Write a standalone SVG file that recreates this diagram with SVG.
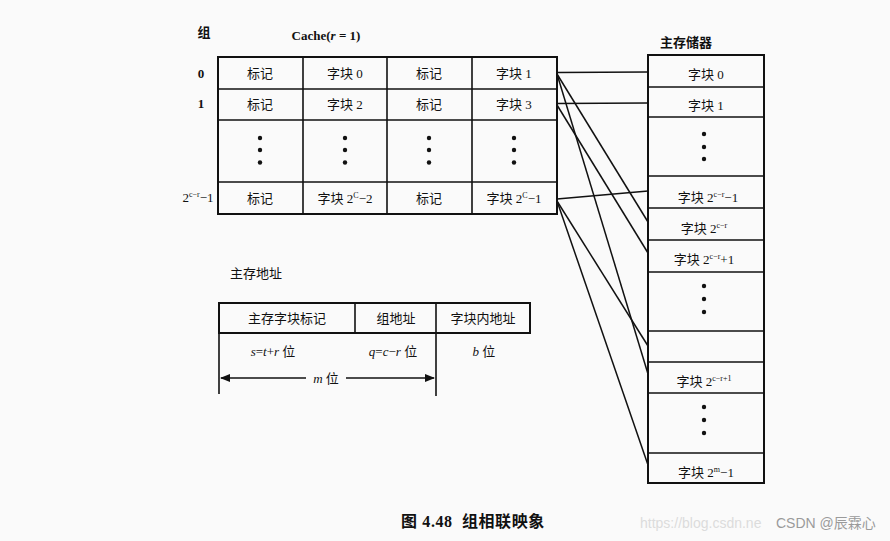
<svg xmlns="http://www.w3.org/2000/svg" width="890" height="541" viewBox="0 0 890 541">
<style>
.t{font-family:"Liberation Serif","Noto Sans CJK SC",serif;font-size:13px;fill:#111;text-anchor:middle}
.box{fill:none;stroke:#111;stroke-width:2}
.ln{stroke:#111;stroke-width:1.6;fill:none}
.cn{stroke:#111;stroke-width:1.5}
.dot{fill:#111}
.sup{font-size:8px}
</style>
<defs>
<marker id="ah" markerWidth="10" markerHeight="8" refX="9" refY="4" orient="auto" markerUnits="userSpaceOnUse">
<path d="M0,0 L10,4 L0,8 Z" fill="#111"/>
</marker>
</defs>
<rect width="890" height="541" fill="#fafafa"/>

<g id="cache-labels">
<text class="t" x="204" y="37" font-weight="bold">组</text>
<text class="t" x="326" y="40" font-weight="bold">Cache(<tspan font-style="italic">r</tspan> = 1)</text>
<text class="t" x="201" y="78" font-weight="bold">0</text>
<text class="t" x="201" y="108" font-weight="bold">1</text>
<text class="t" x="198" y="202">2<tspan class="sup" dy="-5">c−r</tspan><tspan dy="5">−1</tspan></text>
</g>

<g id="cache">
<rect class="box" x="218" y="57" width="339" height="157"/>
<line class="ln" x1="218" y1="89" x2="557" y2="89"/>
<line class="ln" x1="218" y1="120" x2="557" y2="120"/>
<line class="ln" x1="218" y1="182" x2="557" y2="182"/>
<line class="ln" x1="303" y1="57" x2="303" y2="214"/>
<line class="ln" x1="387" y1="57" x2="387" y2="214"/>
<line class="ln" x1="472" y1="57" x2="472" y2="214"/>
<text class="t" x="260" y="78">标记</text>
<text class="t" x="345" y="78">字块 0</text>
<text class="t" x="429" y="78">标记</text>
<text class="t" x="514" y="78">字块 1</text>
<text class="t" x="260" y="109">标记</text>
<text class="t" x="345" y="109">字块 2</text>
<text class="t" x="429" y="109">标记</text>
<text class="t" x="514" y="109">字块 3</text>
<g class="dot">
<circle cx="260" cy="138" r="2.2"/><circle cx="260" cy="150" r="2.2"/><circle cx="260" cy="162.5" r="2.2"/>
<circle cx="345" cy="138" r="2.2"/><circle cx="345" cy="150" r="2.2"/><circle cx="345" cy="162.5" r="2.2"/>
<circle cx="429" cy="138" r="2.2"/><circle cx="429" cy="150" r="2.2"/><circle cx="429" cy="162.5" r="2.2"/>
<circle cx="514" cy="138" r="2.2"/><circle cx="514" cy="150" r="2.2"/><circle cx="514" cy="162.5" r="2.2"/>
</g>
<text class="t" x="260" y="203">标记</text>
<text class="t" x="345" y="203">字块 2<tspan class="sup" dy="-5">C</tspan><tspan dy="5">−2</tspan></text>
<text class="t" x="429" y="203">标记</text>
<text class="t" x="514" y="203">字块 2<tspan class="sup" dy="-5">C</tspan><tspan dy="5">−1</tspan></text>
</g>

<g id="memory">
<text class="t" x="686" y="47" font-weight="bold">主存储器</text>
<rect class="box" x="648" y="55" width="116" height="428"/>
<line class="ln" x1="648" y1="87" x2="764" y2="87"/>
<line class="ln" x1="648" y1="117" x2="764" y2="117"/>
<line class="ln" x1="648" y1="176" x2="764" y2="176"/>
<line class="ln" x1="648" y1="208" x2="764" y2="208"/>
<line class="ln" x1="648" y1="240" x2="764" y2="240"/>
<line class="ln" x1="648" y1="272" x2="764" y2="272"/>
<line class="ln" x1="648" y1="331" x2="764" y2="331"/>
<line class="ln" x1="648" y1="362" x2="764" y2="362"/>
<line class="ln" x1="648" y1="393" x2="764" y2="393"/>
<line class="ln" x1="648" y1="453" x2="764" y2="453"/>
<text class="t" x="706" y="79">字块 0</text>
<text class="t" x="706" y="110">字块 1</text>
<g class="dot">
<circle cx="704" cy="134" r="2.2"/><circle cx="704" cy="147" r="2.2"/><circle cx="704" cy="159" r="2.2"/>
<circle cx="704" cy="286" r="2.2"/><circle cx="704" cy="299" r="2.2"/><circle cx="704" cy="312" r="2.2"/>
<circle cx="704" cy="407" r="2.2"/><circle cx="704" cy="420" r="2.2"/><circle cx="704" cy="433" r="2.2"/>
</g>
<text class="t" x="708" y="202">字块 2<tspan class="sup" dy="-5">c−r</tspan><tspan dy="5">−1</tspan></text>
<text class="t" x="704" y="233">字块 2<tspan class="sup" dy="-5">c−r</tspan></text>
<text class="t" x="704" y="264">字块 2<tspan class="sup" dy="-5">c−r</tspan><tspan dy="5">+1</tspan></text>
<text class="t" x="704" y="386">字块 2<tspan class="sup" dy="-5">c−r+1</tspan></text>
<text class="t" x="706" y="477">字块 2<tspan class="sup" dy="-5">m</tspan><tspan dy="5">−1</tspan></text>
</g>

<g id="connectors">
<line class="cn" x1="557" y1="72.5" x2="648" y2="72"/>
<line class="cn" x1="557" y1="74" x2="648" y2="222"/>
<line class="cn" x1="557" y1="74" x2="648" y2="374"/>
<line class="cn" x1="557" y1="103.5" x2="648" y2="103"/>
<line class="cn" x1="557" y1="105" x2="648" y2="253"/>
<line class="cn" x1="557" y1="199" x2="648" y2="191"/>
<line class="cn" x1="557" y1="201" x2="648" y2="346"/>
<line class="cn" x1="557" y1="201" x2="648" y2="465"/>
</g>

<g id="address">
<text class="t" x="256" y="278">主存地址</text>
<rect class="box" x="219" y="303" width="311" height="30"/>
<line class="ln" x1="355" y1="303" x2="355" y2="333"/>
<line class="ln" x1="436" y1="303" x2="436" y2="333"/>
<line class="ln" x1="219" y1="333" x2="219" y2="394"/>
<line class="ln" x1="436" y1="333" x2="436" y2="396"/>
<text class="t" x="287" y="323">主存字块标记</text>
<text class="t" x="396" y="323">组地址</text>
<text class="t" x="483" y="323">字块内地址</text>
<text class="t" x="273" y="356"><tspan font-style="italic">s</tspan>=<tspan font-style="italic">t</tspan>+<tspan font-style="italic">r</tspan> 位</text>
<text class="t" x="393" y="356"><tspan font-style="italic">q</tspan>=<tspan font-style="italic">c</tspan>−<tspan font-style="italic">r</tspan> 位</text>
<text class="t" x="484" y="356"><tspan font-style="italic">b</tspan> 位</text>
<line class="cn" x1="306" y1="378" x2="221" y2="378" marker-end="url(#ah)"/>
<line class="cn" x1="346" y1="378" x2="434" y2="378" marker-end="url(#ah)"/>
<text class="t" x="326" y="383"><tspan font-style="italic">m</tspan> 位</text>
</g>

<g id="caption">
<text x="473" y="527" style="font-family:'Liberation Serif','Noto Sans CJK SC',serif;font-size:16px;font-weight:bold;fill:#111;text-anchor:middle;letter-spacing:0.6px;white-space:pre">图 4.48  组相联映象</text>
<text x="640" y="528" style="font-family:'Liberation Sans','Noto Sans CJK SC',sans-serif;font-size:14px;fill:#dcdcdc">https://blog.csdn.ne</text>
<text x="776" y="528" style="font-family:'Liberation Sans','Noto Sans CJK SC',sans-serif;font-size:14px;fill:#9a9a9a">CSDN @辰霖心</text>
</g>
</svg>
